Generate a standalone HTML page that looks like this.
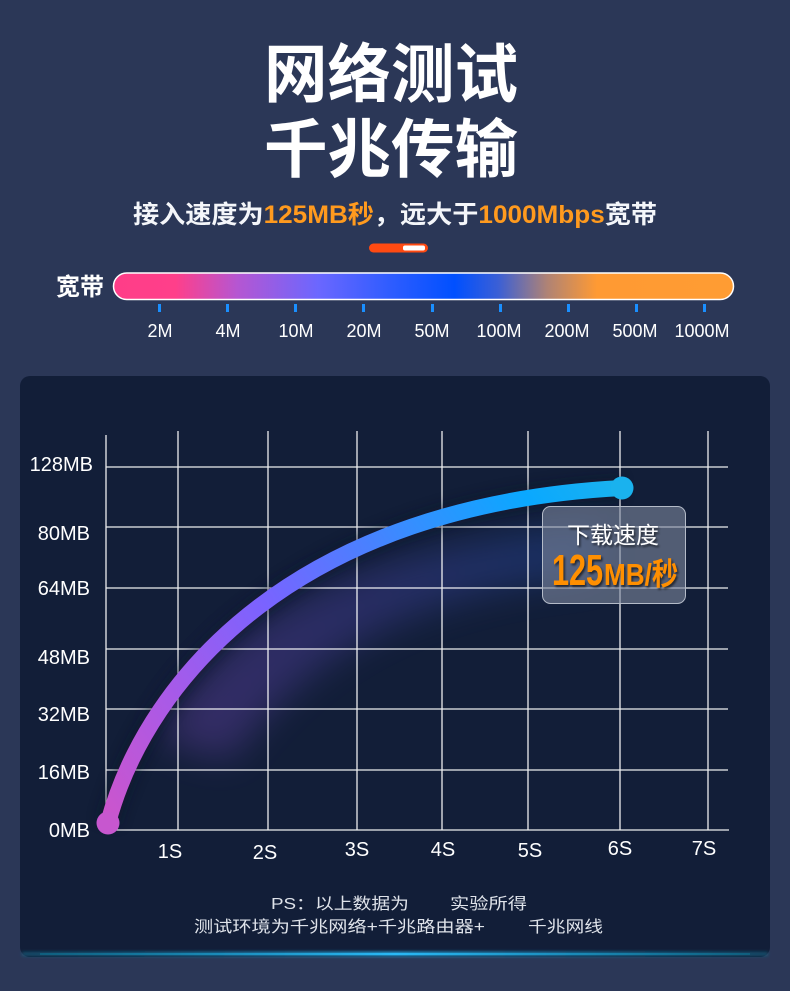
<!DOCTYPE html>
<html><head><meta charset="utf-8">
<style>
html,body{margin:0;padding:0;background:#2b3757;}
svg{display:block;}
text{font-family:"Liberation Sans","Noto Sans CJK SC",sans-serif;}
</style></head>
<body>
<svg width="790" height="991" viewBox="0 0 790 991" xmlns="http://www.w3.org/2000/svg">
<defs>
  <linearGradient id="bar" x1="0" y1="0" x2="1" y2="0">
    <stop offset="0" stop-color="#ff3d88"/>
    <stop offset="0.1" stop-color="#ff3f8a"/>
    <stop offset="0.2" stop-color="#b556d2"/>
    <stop offset="0.33" stop-color="#6b67ff"/>
    <stop offset="0.45" stop-color="#2d5cff"/>
    <stop offset="0.55" stop-color="#0050ff"/>
    <stop offset="0.62" stop-color="#3a5fd6"/>
    <stop offset="0.7" stop-color="#b08374"/>
    <stop offset="0.78" stop-color="#ff9a33"/>
    <stop offset="1" stop-color="#ff9c33"/>
  </linearGradient>
  <linearGradient id="curve" gradientUnits="userSpaceOnUse" x1="108" y1="823" x2="622" y2="488">
    <stop offset="0" stop-color="#cc55cc"/>
    <stop offset="0.2" stop-color="#a85ae8"/>
    <stop offset="0.41" stop-color="#7a63ff"/>
    <stop offset="0.6" stop-color="#4a80ff"/>
    <stop offset="0.69" stop-color="#3390ff"/>
    <stop offset="0.86" stop-color="#0aa8ff"/>
    <stop offset="1" stop-color="#1ab2ee"/>
  </linearGradient>
  <linearGradient id="haze" gradientUnits="userSpaceOnUse" x1="150" y1="700" x2="600" y2="500">
    <stop offset="0" stop-color="#8a4fd0"/>
    <stop offset="0.5" stop-color="#5a50c8"/>
    <stop offset="1" stop-color="#1d5fc8"/>
  </linearGradient>
  <linearGradient id="glowline" x1="0" y1="0" x2="1" y2="0">
    <stop offset="0" stop-color="#0d6f8f" stop-opacity="0.6"/>
    <stop offset="0.5" stop-color="#2ab8f5"/>
    <stop offset="1" stop-color="#0d6f8f" stop-opacity="0.6"/>
  </linearGradient>
  <filter id="blur20" x="-50%" y="-50%" width="200%" height="200%"><feGaussianBlur stdDeviation="18"/></filter>
  <filter id="blur2" x="-10%" y="-200%" width="120%" height="500%"><feGaussianBlur stdDeviation="1.5"/></filter>
  <filter id="shadow" x="-20%" y="-20%" width="140%" height="140%">
    <feDropShadow dx="1.5" dy="2" stdDeviation="1" flood-color="#000" flood-opacity="0.6"/>
  </filter>
  <filter id="curveShadow" x="-20%" y="-20%" width="140%" height="140%">
    <feGaussianBlur stdDeviation="6"/>
  </filter>
</defs>

<rect width="790" height="991" fill="#2b3757"/>

<!-- Title -->
<text x="391" y="97" font-size="64" font-weight="700" fill="#ffffff" text-anchor="middle" textLength="254" lengthAdjust="spacingAndGlyphs">网络测试</text>
<text x="391" y="172" font-size="64" font-weight="700" fill="#ffffff" text-anchor="middle" textLength="254" lengthAdjust="spacingAndGlyphs">千兆传输</text>

<!-- Subtitle -->
<text x="133" y="223" font-size="25" font-weight="700" fill="#f4f6fa" textLength="524" lengthAdjust="spacingAndGlyphs">接入速度为<tspan fill="#ff9a1e">125MB秒</tspan>，远大于<tspan fill="#ff9a1e">1000Mbps</tspan>宽带</text>

<!-- small indicator pill -->
<rect x="369" y="243.5" width="59" height="9" rx="4.5" fill="#ff4a12"/>
<rect x="403" y="245.5" width="22" height="5" rx="2" fill="#ffffff"/>

<!-- Bandwidth bar -->
<text x="56" y="295" font-size="24" font-weight="700" fill="#ffffff">宽带</text>
<rect x="113.5" y="273" width="620" height="26.5" rx="13.25" fill="url(#bar)" stroke="#ffffff" stroke-width="1.5"/>
<g fill="#1a8fff">
  <rect x="158" y="304" width="3" height="8"/>
  <rect x="226" y="304" width="3" height="8"/>
  <rect x="294" y="304" width="3" height="8"/>
  <rect x="362" y="304" width="3" height="8"/>
  <rect x="431" y="304" width="3" height="8"/>
  <rect x="499" y="304" width="3" height="8"/>
  <rect x="567" y="304" width="3" height="8"/>
  <rect x="635" y="304" width="3" height="8"/>
  <rect x="703" y="304" width="3" height="8"/>
</g>
<g font-size="18" fill="#ffffff" text-anchor="middle">
  <text x="160" y="337">2M</text>
  <text x="228" y="337">4M</text>
  <text x="296" y="337">10M</text>
  <text x="364" y="337">20M</text>
  <text x="432" y="337">50M</text>
  <text x="499" y="337">100M</text>
  <text x="567" y="337">200M</text>
  <text x="635" y="337">500M</text>
  <text x="702" y="337">1000M</text>
</g>

<!-- Card -->
<rect x="20" y="376" width="750" height="581" rx="10" fill="#121e38"/>
<rect x="22" y="952" width="746" height="4" fill="url(#glowline)" filter="url(#blur2)"/>
<rect x="40" y="953" width="710" height="2" fill="url(#glowline)"/>

<!-- haze under curve -->
<path d="M160 740 C210 630 340 545 600 525 L600 575 C420 590 310 650 230 760 Z" fill="url(#haze)" opacity="0.3" filter="url(#blur20)"/>

<!-- Grid -->
<g stroke="#ffffff" stroke-width="1.3" opacity="0.92">
  <line x1="106" y1="435" x2="106" y2="830"/>
  <line x1="178" y1="431" x2="178" y2="830"/>
  <line x1="268" y1="431" x2="268" y2="830"/>
  <line x1="357" y1="431" x2="357" y2="830"/>
  <line x1="442" y1="431" x2="442" y2="830"/>
  <line x1="528" y1="431" x2="528" y2="830"/>
  <line x1="620" y1="431" x2="620" y2="830"/>
  <line x1="708" y1="431" x2="708" y2="830"/>
  <line x1="106" y1="467" x2="728" y2="467"/>
  <line x1="106" y1="527" x2="728" y2="527"/>
  <line x1="106" y1="588" x2="728" y2="588"/>
  <line x1="106" y1="649" x2="728" y2="649"/>
  <line x1="106" y1="709" x2="728" y2="709"/>
  <line x1="106" y1="770" x2="728" y2="770"/>
  <line x1="106" y1="830" x2="729" y2="830"/>
</g>

<!-- Y labels -->
<g font-size="20" fill="#ffffff" text-anchor="end">
  <text x="93" y="471">128MB</text>
  <text x="90" y="540">80MB</text>
  <text x="90" y="595">64MB</text>
  <text x="90" y="664">48MB</text>
  <text x="90" y="721">32MB</text>
  <text x="90" y="779">16MB</text>
  <text x="90" y="837">0MB</text>
</g>
<!-- X labels -->
<g font-size="20" fill="#ffffff" text-anchor="middle">
  <text x="170" y="858">1S</text>
  <text x="265" y="859">2S</text>
  <text x="357" y="856">3S</text>
  <text x="443" y="856">4S</text>
  <text x="530" y="857">5S</text>
  <text x="620" y="855">6S</text>
  <text x="704" y="855">7S</text>
</g>

<!-- Curve -->
<path d="M108 823 C148 675 300 505 622 488" fill="none" stroke="#0a1226" stroke-width="22" opacity="0.5" filter="url(#curveShadow)"/>
<path d="M108 823 C148 675 300 505 622 488" fill="none" stroke="url(#curve)" stroke-width="16" stroke-linecap="round"/>
<circle cx="108" cy="823" r="11.5" fill="#c757cf"/>
<circle cx="622" cy="488" r="11.5" fill="#1ab2ee"/>

<!-- Tooltip -->
<rect x="542.5" y="506.5" width="143" height="97" rx="8" fill="#7d879c" fill-opacity="0.6" stroke="#b4bbc8" stroke-width="1"/>
<text x="613" y="543" font-size="23" fill="#ffffff" text-anchor="middle" filter="url(#shadow)">下载速度</text>
<text x="552" y="585" font-size="44" font-weight="700" fill="#ff8f00" textLength="51" lengthAdjust="spacingAndGlyphs" filter="url(#shadow)">125</text>
<text x="604" y="585" font-size="31" font-weight="700" fill="#ff8f00" textLength="74" lengthAdjust="spacingAndGlyphs" filter="url(#shadow)">MB/秒</text>

<!-- Footer notes -->
<g font-size="16" fill="#dfe3ea">
  <text x="271" y="909" textLength="138" lengthAdjust="spacingAndGlyphs">PS：以上数据为</text>
  <text x="450" y="909" textLength="77" lengthAdjust="spacingAndGlyphs">实验所得</text>
  <text x="194" y="932" textLength="291" lengthAdjust="spacingAndGlyphs">测试环境为千兆网络+千兆路由器+</text>
  <text x="528" y="932" textLength="75" lengthAdjust="spacingAndGlyphs">千兆网线</text>
</g>
</svg>
</body></html>
